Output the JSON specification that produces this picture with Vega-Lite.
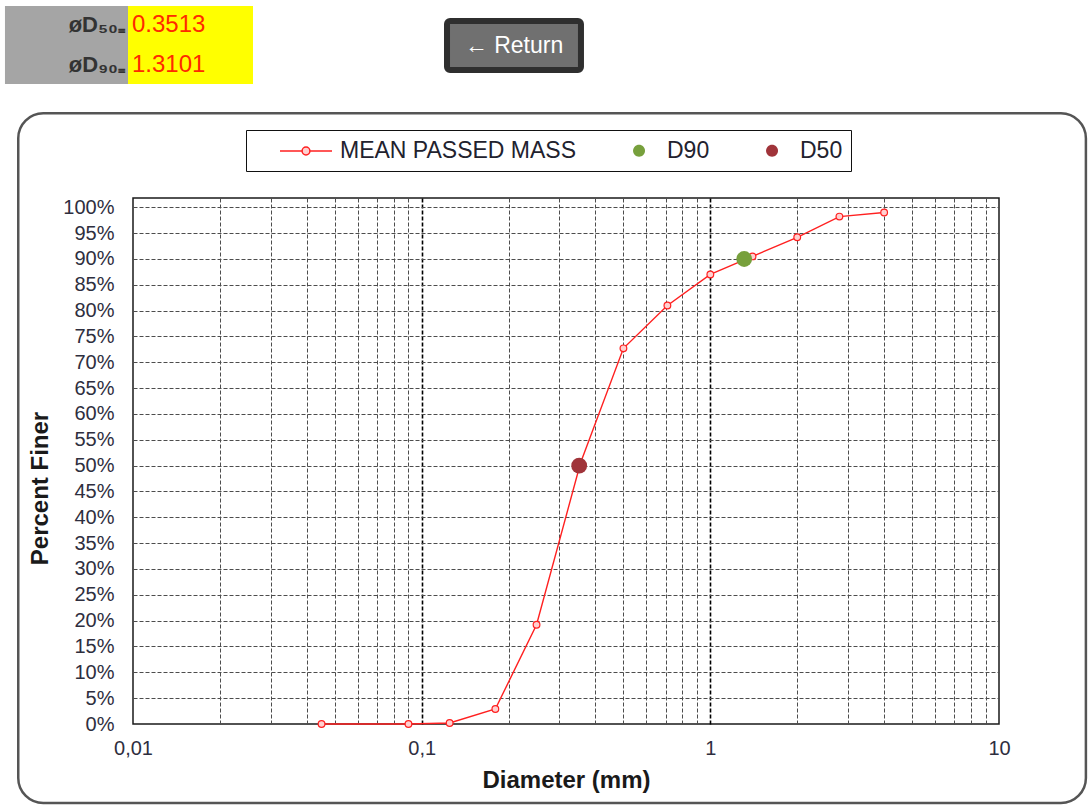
{
  "$schema": "https://vega.github.io/schema/vega-lite/v6.json",
  "background": "white",
  "padding": {"left": 4, "top": 5, "right": 0, "bottom": 0},
  "width": 866,
  "height": 526,
  "config": {"font": "Liberation Sans"},
  "view": {"stroke": "#1a1a1a", "strokeWidth": 1.5},
  "datasets": {
    "sieve": [
      {"d": 0.045, "p": 0.0},
      {"d": 0.09, "p": 0.0},
      {"d": 0.125, "p": 0.002},
      {"d": 0.18, "p": 0.029},
      {"d": 0.25, "p": 0.192},
      {"d": 0.355, "p": 0.505},
      {"d": 0.5, "p": 0.727},
      {"d": 0.71, "p": 0.81},
      {"d": 1.0, "p": 0.87},
      {"d": 1.4, "p": 0.905},
      {"d": 2.0, "p": 0.942},
      {"d": 2.8, "p": 0.982},
      {"d": 4.0, "p": 0.99}
    ],
    "dvals": [
      {"name": "D50", "d": 0.3513, "p": 0.5},
      {"name": "D90", "d": 1.3101, "p": 0.9}
    ],
    "d50label": [{"text": "øD₅₀₌"}],
    "d50value": [{"text": "0.3513"}],
    "d90label": [{"text": "øD₉₀₌"}],
    "d90value": [{"text": "1.3101"}],
    "button": [{"text": "← Return"}],
    "frame": [{"part": "chart area"}]
  },
  "layer": [
    {
      "data": {"name": "frame"},
      "mark": {"type": "rect", "fill": "transparent", "stroke": "#555555", "strokeWidth": 2.5, "cornerRadius": 25},
      "encoding": {
        "x": {
          "datum": 0.004004, "type": "quantitative",
          "scale": {"type": "log", "domain": [0.01, 10], "nice": false},
          "axis": {
            "values": [0.01, 0.02, 0.03, 0.04, 0.05, 0.06, 0.07, 0.08, 0.09, 0.1, 0.2, 0.3, 0.4, 0.5, 0.6, 0.7, 0.8, 0.9, 1, 2, 3, 4, 5, 6, 7, 8, 9, 10],
            "labelExpr": "datum.value === 0.01 ? '0,01' : datum.value === 0.1 ? '0,1' : datum.value === 1 ? '1' : datum.value === 10 ? '10' : ''",
            "labelOverlap": false,
            "labelFlush": false,
            "labelFontSize": 20,
            "labelColor": "#2e2e3e",
            "labelPadding": 14,
            "ticks": false,
            "domain": false,
            "grid": true,
            "gridDash": [4, 2],
            "gridColor": {"condition": {"test": "datum.value === 0.1 || datum.value === 1", "value": "#000000"}, "value": "#4d4d4d"},
            "gridWidth": {"condition": {"test": "datum.value === 0.1 || datum.value === 1", "value": 1.6}, "value": 1},
            "gridOpacity": {"condition": {"test": "datum.value === 0.01 || datum.value === 10", "value": 0}, "value": 1},
            "title": "Diameter  (mm)",
            "titleFontSize": 24,
            "titleFontWeight": "bold",
            "titleColor": "#1a1a1a",
            "titlePadding": 10
          }
        },
        "x2": {"datum": 20.0},
        "y": {
          "datum": 1.182, "type": "quantitative",
          "scale": {"domain": [0, 1.018], "nice": false, "zero": false},
          "axis": {
            "values": [0, 0.05, 0.1, 0.15, 0.2, 0.25, 0.3, 0.35, 0.4, 0.45, 0.5, 0.55, 0.6, 0.65, 0.7, 0.75, 0.8, 0.85, 0.9, 0.95, 1],
            "tickCount": 21,
            "format": ".0%",
            "labelOverlap": false,
            "labelFontSize": 20,
            "labelColor": "#2e2e3e",
            "labelPadding": 19,
            "ticks": false,
            "domain": false,
            "grid": true,
            "gridDash": [4, 2],
            "gridColor": "#4d4d4d",
            "gridOpacity": {"condition": {"test": "datum.value === 0", "value": 0}, "value": 1},
            "title": "Percent Finer",
            "titleFontSize": 24,
            "titleFontWeight": "bold",
            "titleColor": "#1a1a1a",
            "titlePadding": 10,
            "titleY": 290
          }
        },
        "y2": {"datum": -0.1529}
      }
    },
    {
      "data": {"name": "d50label"},
      "mark": {"type": "rect", "fill": "#a5a5a5"},
      "encoding": {
        "x": {"datum": 0.0036015, "type": "quantitative"},
        "x2": {"datum": 0.0096092},
        "y": {"datum": 1.38959, "type": "quantitative"},
        "y2": {"datum": 1.23863}
      }
    },
    {
      "data": {"name": "d50value"},
      "mark": {"type": "rect", "fill": "#ffff00"},
      "encoding": {
        "x": {"datum": 0.0096092, "type": "quantitative"},
        "x2": {"datum": 0.026043},
        "y": {"datum": 1.38959, "type": "quantitative"},
        "y2": {"datum": 1.23863}
      }
    },
    {
      "data": {"name": "d50label"},
      "mark": {"type": "text", "align": "right", "baseline": "middle", "fontSize": 22, "fontWeight": "bold", "color": "#333333"},
      "encoding": {
        "x": {"datum": 0.0093817, "type": "quantitative"},
        "y": {"datum": 1.35185, "type": "quantitative"},
        "text": {"field": "text"}
      }
    },
    {
      "data": {"name": "d90label"},
      "mark": {"type": "text", "align": "right", "baseline": "middle", "fontSize": 22, "fontWeight": "bold", "color": "#333333"},
      "encoding": {
        "x": {"datum": 0.0093817, "type": "quantitative"},
        "y": {"datum": 1.27637, "type": "quantitative"},
        "text": {"field": "text"}
      }
    },
    {
      "data": {"name": "d50value"},
      "mark": {"type": "text", "align": "left", "baseline": "middle", "fontSize": 24, "color": "#ff2a00"},
      "encoding": {
        "x": {"datum": 0.0099206, "type": "quantitative"},
        "y": {"datum": 1.35185, "type": "quantitative"},
        "text": {"field": "text"}
      }
    },
    {
      "data": {"name": "d90value"},
      "mark": {"type": "text", "align": "left", "baseline": "middle", "fontSize": 24, "color": "#ff2a00"},
      "encoding": {
        "x": {"datum": 0.0099206, "type": "quantitative"},
        "y": {"datum": 1.27637, "type": "quantitative"},
        "text": {"field": "text"}
      }
    },
    {
      "data": {"name": "button"},
      "mark": {"type": "rect", "fill": "#707070", "stroke": "#2f2f2f", "strokeWidth": 6, "cornerRadius": 3},
      "encoding": {
        "x": {"datum": 0.1224, "type": "quantitative"},
        "x2": {"datum": 0.35634},
        "y": {"datum": 1.36056, "type": "quantitative"},
        "y2": {"datum": 1.26572}
      }
    },
    {
      "data": {"name": "button"},
      "mark": {"type": "text", "align": "center", "baseline": "middle", "fontSize": 23, "color": "#ffffff"},
      "encoding": {
        "x": {"datum": 0.20887, "type": "quantitative"},
        "y": {"datum": 1.31314, "type": "quantitative"},
        "text": {"field": "text"}
      }
    },
    {
      "data": {"name": "sieve"},
      "mark": {"type": "line", "strokeWidth": 1.4},
      "encoding": {
        "x": {"field": "d", "type": "quantitative"},
        "y": {"field": "p", "type": "quantitative"},
        "stroke": {
          "datum": "MEAN PASSED MASS", "type": "nominal",
          "scale": {"domain": ["MEAN PASSED MASS"], "range": ["#ff2020"]},
          "legend": {
            "title": null,
            "orient": "none",
            "legendX": 146,
            "legendY": -74,
            "padding": 0,
            "symbolType": "M-1,0L-0.15,0M0.15,0L1,0M-0.15,0A0.15,0.15,0,1,1,0.15,0A0.15,0.15,0,1,1,-0.15,0",
            "symbolSize": 2704,
            "symbolStrokeWidth": 1.5,
            "symbolFillColor": "#ffd0d0",
            "labelExpr": "''",
            "labelFontSize": 23
          }
        }
      }
    },
    {
      "data": {"name": "sieve"},
      "mark": {"type": "point", "filled": true, "fill": "#ffd0d0", "stroke": "#ff2020", "strokeWidth": 1.2, "size": 45, "opacity": 1},
      "encoding": {
        "x": {"field": "d", "type": "quantitative"},
        "y": {"field": "p", "type": "quantitative"}
      }
    },
    {
      "data": {"name": "dvals"},
      "mark": {"type": "circle", "size": 250, "opacity": 1},
      "encoding": {
        "x": {"field": "d", "type": "quantitative"},
        "y": {"field": "p", "type": "quantitative"},
        "color": {
          "field": "name", "type": "nominal",
          "scale": {"domain": ["MEAN PASSED MASS", "D90", "D50"], "range": ["transparent", "#77a03c", "#a0343a"]},
          "legend": {
            "title": null,
            "orient": "none",
            "legendX": 113,
            "legendY": -68,
            "direction": "horizontal",
            "strokeColor": "#111111",
            "padding": 8,
            "symbolType": "M3.44,0A0.52,0.52,0,1,1,4.48,0A0.52,0.52,0,1,1,3.44,0Z",
            "symbolSize": 529,
            "symbolOpacity": 1,
            "labelFont": "Liberation Sans",
            "labelFontSize": 23,
            "labelColor": "#22222e",
            "labelOffset": 61,
            "labelLimit": 400,
            "columnPadding": 4
          }
        }
      }
    }
  ]
}
